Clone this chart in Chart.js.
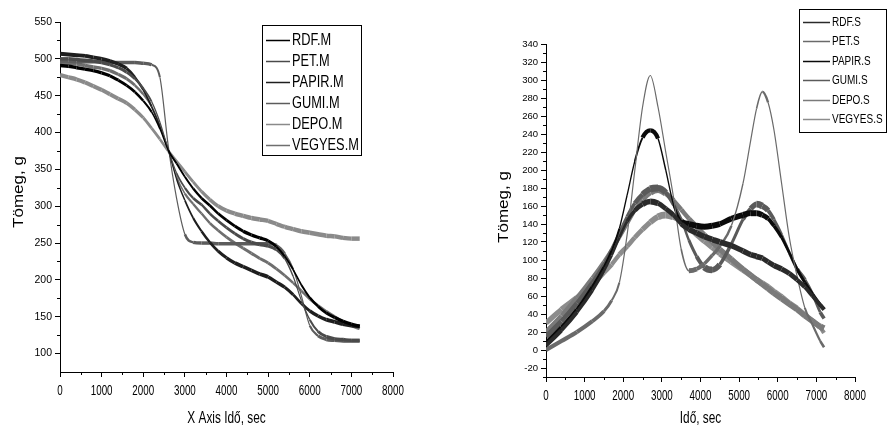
<!DOCTYPE html>
<html>
<head>
<meta charset="utf-8">
<script src="https://cdn.jsdelivr.net/npm/chart.js@4.4.1/dist/chart.umd.min.js"></script>
<style>
  html, body { margin: 0; padding: 0; background: #fff; }
  #wrap { position: relative; width: 888px; height: 425px; }
  .panel { position: absolute; top: 0; width: 444px; height: 425px; }
</style>
</head>
<body>
<div id="wrap">
  <div class="panel" style="left:0"><canvas id="mass-chart" width="444" height="425"></canvas></div>
  <div class="panel" style="left:444px"><canvas id="rate-chart" width="444" height="425"></canvas></div>
</div>
<script>
// mass curves, sampled every 200 s
const massTime = [0, 200, 400, 600, 800, 1000, 1200, 1400, 1600, 1800, 2000, 2200, 2400, 2600, 2800, 3000, 3200, 3400, 3600,
    3800, 4000, 4200, 4400, 4600, 4800, 5000, 5200, 5400, 5600, 5800, 6000, 6200, 6400, 6600, 6800, 7000, 7200];
const rdfM = [491, 490, 488, 486, 484, 481, 477, 471, 464, 455, 443, 428, 405, 376, 358, 340, 324, 311, 301,
    290, 281, 273, 266, 261, 257, 253, 245, 232, 214, 193, 176, 164, 155, 149, 144, 140, 137];
const petM = [500, 500, 499, 498, 497, 495, 492, 488, 482, 473, 460, 442, 414, 377, 345, 325, 311, 302, 290,
    280, 271, 263, 256, 251, 248, 246, 241, 229, 205, 172, 146, 130, 123, 120, 119, 118, 118];
const papirM = [507, 506, 505, 504, 502, 500, 497, 493, 487, 475, 458, 435, 408, 377, 337, 308, 284, 266, 251,
    239, 230, 223, 218, 213, 208, 204, 197, 190, 180, 168, 158, 151, 146, 143, 140, 138, 137];
const gumiM = [497, 497, 496, 496, 496, 496, 495, 495, 495, 495, 494, 492, 475, 382, 311, 262, 251, 250, 250,
    249, 249, 249, 249, 249, 249, 249, 247, 236, 215, 178, 138, 124, 119, 118, 117, 117, 117];
const depoM = [478, 475, 472, 468, 463, 458, 452, 446, 440, 431, 420, 406, 391, 375, 361, 347, 333, 320, 309,
    300, 294, 290, 287, 284, 282, 280, 276, 272, 269, 266, 264, 262, 260, 259, 257, 256, 256];
const vegyesM = [495, 494, 493, 491, 489, 487, 484, 479, 473, 464, 452, 436, 410, 376, 340, 317, 303, 290, 277,
    267, 258, 250, 243, 236, 229, 223, 215, 206, 196, 185, 174, 165, 157, 150, 143, 138, 134];

// rate curves, denser around the peaks
const rateTime = [0, 400, 800, 1200, 1500, 1700, 1900, 2100, 2300, 2500, 2700, 2900, 3100, 3300, 3500, 3700, 3900,
    4100, 4300, 4500, 4800, 5100, 5300, 5450, 5600, 5750, 5900, 6100, 6300, 6500, 6700, 6900, 7100, 7200];
const rdfS = [5, 22, 42, 66, 88, 105, 125, 143, 155, 162, 165, 163, 157, 150, 140, 134, 130,
    126, 123, 120, 116, 110, 106, 104, 102, 98, 94, 90, 85, 78, 70, 60, 50, 45];
const petS = [0, 10, 20, 32, 43, 55, 75, 128, 200, 270, 305, 270, 220, 170, 112, 88, 90,
    96, 105, 115, 138, 185, 233, 268, 287, 275, 245, 185, 125, 82, 47, 28, 10, 3];
const papirS = [8, 25, 45, 70, 92, 110, 135, 172, 210, 236, 244, 235, 200, 162, 143, 140, 138,
    137, 138, 140, 146, 150, 152, 152, 150, 146, 138, 125, 108, 90, 75, 62, 50, 45];
const gumiS = [15, 32, 52, 75, 95, 112, 130, 148, 163, 173, 179, 180, 175, 162, 145, 122, 104,
    92, 89, 95, 118, 145, 157, 162, 160, 155, 145, 128, 108, 90, 78, 62, 42, 35];
const depoS = [20, 38, 58, 80, 98, 111, 125, 140, 155, 167, 175, 178, 174, 166, 156, 146, 137,
    128, 120, 112, 101, 90, 83, 78, 73, 68, 63, 57, 51, 45, 38, 32, 26, 24];
const vegyesS = [30, 45, 58, 72, 86, 95, 106, 115, 125, 134, 142, 148, 150, 148, 143, 136, 128,
    121, 114, 107, 98, 89, 83, 78, 74, 70, 65, 59, 52, 46, 39, 32, 25, 19];

// axis ticks
const timeTicks = [0, 1000, 2000, 3000, 4000, 5000, 6000, 7000, 8000];
const massTicks = [100, 150, 200, 250, 300, 350, 400, 450, 500, 550];
const rateTicks = [-20, 0, 20, 40, 60, 80, 100, 120, 140, 160, 180, 200, 220, 240, 260, 280, 300, 320, 340];

const FONT = "'Liberation Sans', Arial, sans-serif";
Chart.defaults.font.family = FONT;
Chart.defaults.color = "#000";

// text in a narrow face: same height, squeezed sideways
function narrowText(ctx, text, x, y, squeeze) {
    ctx.save();
    ctx.translate(x, y);
    ctx.scale(squeeze, 1);
    ctx.fillText(text, 0, 0);
    ctx.restore();
}

// noisy traces look thick where flat and thin where steep
function bandWidth(band) {
    return (ctx) => {
        const dx = ctx.p1.x - ctx.p0.x;
        const dy = ctx.p1.y - ctx.p0.y;
        return Math.max(1.2, band * Math.abs(dx) / Math.hypot(dx, dy));
    };
}

function series(label, xs, ys, color, band) {
    return {
        label: label,
        data: xs.map((x, i) => ({x: x, y: ys[i]})),
        borderColor: color,
        backgroundColor: color,
        borderWidth: band,
        pointRadius: 0,
        cubicInterpolationMode: "monotone",
        segment: {borderWidth: bandWidth(band)},
    };
}

// framed legend in the upper right
const boxLegend = {
    id: "boxLegend",
    afterDraw(chart, args, opts) {
        const ctx = chart.ctx;
        ctx.save();
        ctx.strokeStyle = "#000";
        ctx.lineWidth = 1;
        ctx.strokeRect(opts.left + 0.5, opts.top + 0.5, opts.width, opts.height);
        ctx.font = opts.fontSize + "px " + FONT;
        ctx.textBaseline = "middle";
        ctx.fillStyle = "#000";
        chart.data.datasets.forEach((ds, i) => {
            const y = Math.round(opts.top + opts.first + i * opts.gap) + 0.5;
            ctx.strokeStyle = ds.borderColor;
            ctx.lineWidth = 1.5;
            ctx.beginPath();
            ctx.moveTo(opts.left + 4, y);
            ctx.lineTo(opts.left + 4 + opts.line, y);
            ctx.stroke();
            narrowText(ctx, ds.label, opts.left + 6 + opts.line, y, 0.8);
        });
        ctx.restore();
    },
};

// short unlabelled ticks halfway between the major ones
const minorTicks = {
    id: "minorTicks",
    afterDraw(chart, args, opts) {
        const {ctx, scales} = chart;
        ctx.save();
        ctx.strokeStyle = "#000";
        ctx.lineWidth = 1;
        ctx.beginPath();
        opts.x.forEach((v) => {
            const px = Math.round(scales.x.getPixelForValue(v)) + 0.5;
            ctx.moveTo(px, scales.x.top);
            ctx.lineTo(px, scales.x.top + 3);
        });
        opts.y.forEach((v) => {
            const py = Math.round(scales.y.getPixelForValue(v)) + 0.5;
            ctx.moveTo(scales.y.right - 3, py);
            ctx.lineTo(scales.y.right, py);
        });
        ctx.stroke();
        ctx.restore();
    },
};

// x tick labels and both axis titles
const axisText = {
    id: "axisText",
    afterDraw(chart, args, opts) {
        const {ctx, scales} = chart;
        const x = scales.x;
        ctx.save();
        ctx.fillStyle = "#000";
        ctx.textAlign = "center";
        ctx.textBaseline = "alphabetic";
        ctx.font = "14px " + FONT;
        x.ticks.forEach((t) => {
            narrowText(ctx, String(t.value), x.getPixelForValue(t.value), x.top + 22.5, 0.7);
        });
        ctx.font = "16px " + FONT;
        narrowText(ctx, opts.xTitle, (x.left + x.right) / 2, 423, 0.74);
        ctx.translate(opts.yTitleX, opts.yTitleY);
        ctx.rotate(-Math.PI / 2);
        ctx.scale(1, 0.82);
        ctx.font = "17px " + FONT;
        ctx.fillText(opts.yTitle, 0, 0);
        ctx.restore();
    },
};

function axes(yMin, yMax, yTicks, yWidth, xHeight, ySize) {
    return {
        x: {
            type: "linear",
            min: 0,
            max: 8000,
            afterBuildTicks: (s) => { s.ticks = timeTicks.map((v) => ({value: v})); },
            afterFit: (s) => { s.height = xHeight; },
            grid: {drawOnChartArea: false, tickLength: 5, color: "#000"},
            border: {color: "#000", width: 1},
            ticks: {display: false},
        },
        y: {
            type: "linear",
            min: yMin,
            max: yMax,
            afterBuildTicks: (s) => { s.ticks = yTicks.map((v) => ({value: v})); },
            afterFit: (s) => { s.width = yWidth; },
            grid: {drawOnChartArea: false, tickLength: 5, color: "#000"},
            border: {color: "#000", width: 1},
            ticks: {font: {size: ySize}, padding: 3, autoSkip: false, callback: (v) => String(v)},
        },
    };
}

new Chart(document.getElementById("mass-chart"), {
    type: "line",
    data: {
        datasets: [
            series("RDF.M", massTime, rdfM, "#000000", 3.5),
            series("PET.M", massTime, petM, "#4a4a4a", 3.5),
            series("PAPIR.M", massTime, papirM, "#1e1e1e", 4),
            series("GUMI.M", massTime, gumiM, "#5c5c5c", 3.5),
            series("DEPO.M", massTime, depoM, "#8a8a8a", 4.5),
            series("VEGYES.M", massTime, vegyesM, "#6e6e6e", 3.5),
        ],
    },
    options: {
        responsive: false,
        animation: false,
        layout: {padding: {left: 0, right: 51, top: 22, bottom: 0}},
        scales: axes(75, 550, massTicks, 60, 53, 10.5),
        plugins: {
            legend: {display: false},
            tooltip: {enabled: false},
            boxLegend: {left: 262, top: 25, width: 99, height: 130, first: 15, gap: 21, line: 24, fontSize: 16},
            minorTicks: {
                x: timeTicks.slice(1).map((t) => t - 500),
                y: massTicks.map((v) => v + 25).filter((v) => v < 550),
            },
            axisText: {xTitle: "X Axis Idő, sec", yTitle: "Tömeg, g", yTitleX: 23, yTitleY: 192},
        },
    },
    plugins: [boxLegend, minorTicks, axisText],
});

new Chart(document.getElementById("rate-chart"), {
    type: "line",
    data: {
        datasets: [
            series("RDF.S", rateTime, rdfS, "#2a2a2a", 6),
            series("PET.S", rateTime, petS, "#6a6a6a", 5),
            series("PAPIR.S", rateTime, papirS, "#0a0a0a", 6),
            series("GUMI.S", rateTime, gumiS, "#5a5a5a", 7),
            series("DEPO.S", rateTime, depoS, "#7a7a7a", 7),
            series("VEGYES.S", rateTime, vegyesS, "#8c8c8c", 7),
        ],
    },
    options: {
        responsive: false,
        animation: false,
        layout: {padding: {left: 0, right: 33, top: 44, bottom: 0}},
        scales: axes(-30, 340, rateTicks, 102, 48, 9.5),
        plugins: {
            legend: {display: false},
            tooltip: {enabled: false},
            boxLegend: {left: 355, top: 9, width: 87, height: 123, first: 12.7, gap: 19.5, line: 27, fontSize: 12.5},
            minorTicks: {
                x: timeTicks.slice(1).map((t) => t - 500),
                y: rateTicks.map((v) => v - 10),
            },
            axisText: {xTitle: "Idő, sec", yTitle: "Tömeg, g", yTitleX: 64, yTitleY: 207},
        },
    },
    plugins: [boxLegend, minorTicks, axisText],
});
</script>
</body>
</html>
